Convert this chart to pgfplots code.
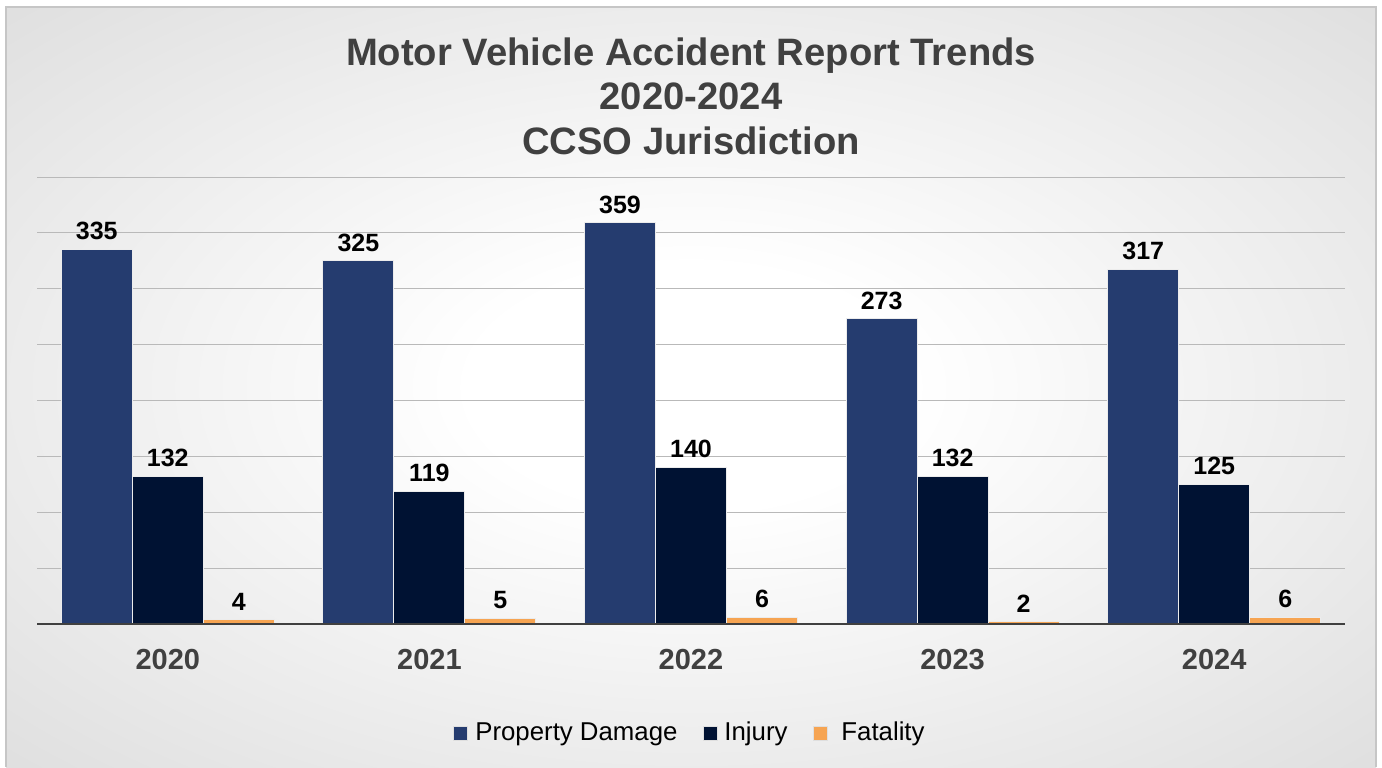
\documentclass[border=0pt]{standalone}
\usepackage{pgfplots}
\pgfplotsset{compat=1.18}
\usepackage{fontspec}
\setmainfont{Liberation Sans}
\definecolor{pd}{RGB}{37,60,111}
\definecolor{inj}{RGB}{0,18,51}
\definecolor{fat}{RGB}{246,164,82}
\definecolor{tgray}{RGB}{64,64,64}
\pgfdeclareradialshading{bgshade}{\pgfpoint{0bp}{0bp}}{color(0bp)=(white); color(8bp)=(white); color(50bp)=(gray!38); color(72bp)=(gray!46)}
\begin{document}
\begin{tikzpicture}
\fill[white] (0,0) rectangle (691pt,383.5pt);
\shade[shading=bgshade] (3pt,0pt) rectangle (688pt,380pt);
\draw[gray!45, line width=0.6pt] (3pt,0pt) -- (3pt,380pt) -- (688pt,380pt) -- (688pt,0pt);
\node[align=center, font=\bfseries\fontsize{19.1}{22.3}\selectfont, text=tgray] at (345.5pt,335.5pt)
  {Motor Vehicle Accident Report Trends\\2020-2024\\CCSO Jurisdiction};
\begin{axis}[
  at={(18.5pt,71.5pt)}, anchor=south west,
  scale only axis, width=654pt, height=223.5pt,
  xmin=-0.5, xmax=4.5, ymin=0, ymax=400,
  ybar, bar width=0.2714,
  xtick={0,1,2,3,4}, xticklabels={2020,2021,2022,2023,2024},
  ytick={0,50,...,400}, yticklabels={},
  major tick length=0,
  ymajorgrids, major grid style={gray!55, line width=0.5pt},
  axis line style={draw=none},
  xticklabel style={font=\bfseries\fontsize{14.5}{16}\selectfont, text=tgray, anchor=north, inner sep=0pt, yshift=-12.2pt},
  /pgf/number format/assume math mode=true,
  nodes near coords,
  every node near coord/.append style={font=\bfseries\fontsize{12.5}{14}\selectfont, text=black, anchor=south, inner sep=0pt, yshift=4.5pt},
  legend columns=3,
  legend style={at={(0.5,-0.244)}, anchor=center, draw=none, fill=none,
    font=\fontsize{12.9}{16}\selectfont,
    /tikz/every even column/.append style={column sep=10.5pt}},
  legend image code/.code={\draw[#1, draw=white!75!gray, line width=0.4pt] (0pt,-3.5pt) rectangle (7pt,3.5pt); \path (8.5pt,0pt);},
]
\addplot[fill=pd, draw=white!85!gray, line width=0.5pt, bar shift=-0.2714] coordinates {(0,335) (1,325) (2,359) (3,273) (4,317)};
\addplot[fill=inj, draw=white!85!gray, line width=0.5pt, bar shift=0] coordinates {(0,132) (1,119) (2,140) (3,132) (4,125)};
\addplot[fill=fat, draw=white!85!gray, line width=0.5pt, bar shift=0.2714] coordinates {(0,4) (1,5) (2,6) (3,2) (4,6)};
\legend{Property Damage, Injury, \hspace{3.5pt}Fatality}
\draw[tgray, line width=1.5pt] (rel axis cs:0,0) -- (rel axis cs:1,0);
\end{axis}
\pgfresetboundingbox
\path[use as bounding box] (0,0) rectangle (691pt,383.5pt);
\end{tikzpicture}
\end{document}
